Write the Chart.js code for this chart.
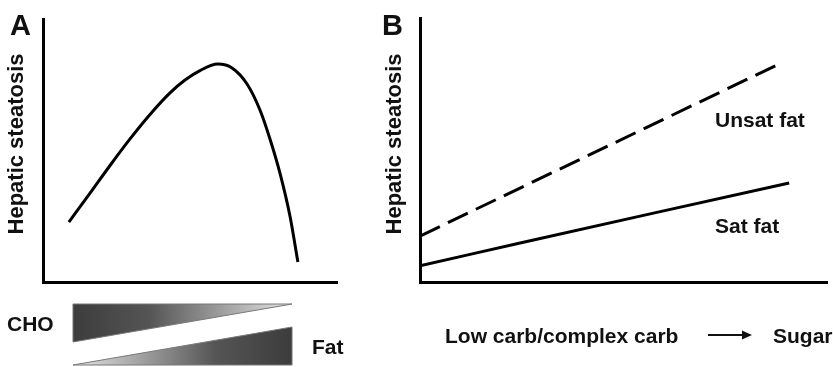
<!DOCTYPE html>
<html>
<head>
<meta charset="utf-8">
<script src="https://cdn.jsdelivr.net/npm/chart.js@4"></script>
<style>
  html, body { margin: 0; padding: 0; background: #fff; }
  body { width: 833px; height: 367px; position: relative; overflow: hidden; }
  canvas { position: absolute; top: 0; }
  #chartA { left: 0; }
  #chartB { left: 375px; }
</style>
</head>
<body>
<canvas id="chartA" width="375" height="367"></canvas>
<canvas id="chartB" width="458" height="367"></canvas>
<script>
// Panel A: CHO -> fat ratio vs hepatic steatosis (schematic, 0-100 units)
const shiftA = [8.8, 16.0, 22.8, 29.6, 36.4, 43.2, 48.3, 53.4, 59.5, 64.3, 69.4, 73.8, 77.2, 80.6, 84.0, 86.7];
const steatosisA = [22.8, 33.8, 44.3, 54.4, 63.7, 71.9, 76.8, 80.4, 82.9, 81.4, 75.3, 65.4, 54.4, 41.4, 25.1, 7.6];
const wedgeRange = [10.2, 84.7];

// Panel B: low carb/complex carb -> sugar
const carbB = [0, 87.7];
const unsatFat = [17.4, 82.2];
const carbSat = [0, 24.6, 90.7];
const satFat = [6.1, 14.8, 37.5];

const FONT = '"Liberation Sans", Arial, sans-serif';

function toPoints(xs, ys) {
    return xs.map((x, i) => ({ x: x, y: ys[i] }));
}

// axes with no ticks or grid, only the black border line
function plainScales() {
    const axis = {
        type: 'linear', min: 0, max: 100,
        grid: { display: false, drawTicks: false },
        ticks: { display: false },
        border: { display: true, color: '#000', width: 3 }
    };
    return { x: { ...axis }, y: { ...axis } };
}

// draws the texts of a panel, positions relative to the canvas
function textPlugin(items) {
    return {
        id: 'panelText',
        afterDraw(chart) {
            const ctx = chart.ctx;
            ctx.save();
            ctx.fillStyle = '#111';
            ctx.textBaseline = 'alphabetic';
            items.forEach(t => {
                ctx.font = 'bold ' + t.size + 'px ' + FONT;
                ctx.save();
                ctx.translate(t.x, t.y);
                if (t.rotate) {
                    ctx.rotate(-Math.PI / 2);
                    ctx.textAlign = 'center';
                } else {
                    ctx.textAlign = 'left';
                }
                ctx.fillText(t.text, 0, 0);
                ctx.restore();
            });
            ctx.restore();
        }
    };
}

// CHO / Fat wedges under panel A
const wedgePlugin = {
    id: 'wedges',
    afterDraw(chart) {
        const ctx = chart.ctx;
        const x0 = chart.scales.x.getPixelForValue(wedgeRange[0]);
        const x1 = chart.scales.x.getPixelForValue(wedgeRange[1]);
        const base = chart.chartArea.bottom;
        ctx.save();
        ctx.lineWidth = 1;
        ctx.strokeStyle = '#777';

        // CHO: thick on the left, thin on the right
        let g = ctx.createLinearGradient(x0, 0, x1, 0);
        g.addColorStop(0, '#3c3c3c');
        g.addColorStop(0.35, '#555');
        g.addColorStop(1, '#e6e6e6');
        ctx.fillStyle = g;
        ctx.beginPath();
        ctx.moveTo(x0, base + 22);
        ctx.lineTo(x1, base + 22);
        ctx.lineTo(x0, base + 60);
        ctx.closePath();
        ctx.fill();
        ctx.stroke();

        // Fat: thin on the left, thick on the right
        g = ctx.createLinearGradient(x0, 0, x1, 0);
        g.addColorStop(0, '#e6e6e6');
        g.addColorStop(0.65, '#555');
        g.addColorStop(1, '#3c3c3c');
        ctx.fillStyle = g;
        ctx.beginPath();
        ctx.moveTo(x0, base + 83);
        ctx.lineTo(x1, base + 45);
        ctx.lineTo(x1, base + 83);
        ctx.closePath();
        ctx.fill();
        ctx.stroke();
        ctx.restore();
    }
};

// arrow between the two parts of the x label in panel B
const arrowPlugin = {
    id: 'arrow',
    afterDraw(chart) {
        const ctx = chart.ctx;
        const y = 335, xs = 333, xe = 377;
        ctx.save();
        ctx.strokeStyle = '#111';
        ctx.fillStyle = '#111';
        ctx.lineWidth = 2;
        ctx.beginPath();
        ctx.moveTo(xs, y);
        ctx.lineTo(xe - 8, y);
        ctx.stroke();
        ctx.beginPath();
        ctx.moveTo(xe, y);
        ctx.lineTo(xe - 10, y - 4.5);
        ctx.lineTo(xe - 10, y + 4.5);
        ctx.closePath();
        ctx.fill();
        ctx.restore();
    }
};

new Chart(document.getElementById('chartA'), {
    type: 'line',
    data: {
        datasets: [{
            data: toPoints(shiftA, steatosisA),
            borderColor: '#000',
            borderWidth: 3,
            pointRadius: 0,
            fill: false,
            cubicInterpolationMode: 'monotone'
        }]
    },
    options: {
        responsive: false,
        animation: false,
        layout: { padding: { left: 43, top: 19, right: 38, bottom: 85 } },
        plugins: { legend: { display: false }, tooltip: { enabled: false } },
        scales: plainScales()
    },
    plugins: [wedgePlugin, textPlugin([
        { text: 'A', x: 10, y: 35, size: 29 },
        { text: 'Hepatic steatosis', x: 23, y: 144, size: 22, rotate: true },
        { text: 'CHO', x: 7, y: 331, size: 21 },
        { text: 'Fat', x: 312, y: 354, size: 21 }
    ])]
});

new Chart(document.getElementById('chartB'), {
    type: 'line',
    data: {
        datasets: [{
            label: 'Unsat fat',
            data: toPoints(carbB, unsatFat),
            borderColor: '#000',
            borderWidth: 3,
            borderDash: [22, 9],
            pointRadius: 0,
            fill: false
        }, {
            label: 'Sat fat',
            data: toPoints(carbSat, satFat),
            borderColor: '#000',
            borderWidth: 3,
            pointRadius: 0,
            fill: false,
            tension: 0.4
        }]
    },
    options: {
        responsive: false,
        animation: false,
        layout: { padding: { left: 45, top: 18, right: 6, bottom: 85 } },
        plugins: { legend: { display: false }, tooltip: { enabled: false } },
        scales: plainScales()
    },
    plugins: [arrowPlugin, textPlugin([
        { text: 'B', x: 7, y: 35, size: 29 },
        { text: 'Hepatic steatosis', x: 26, y: 144, size: 22, rotate: true },
        { text: 'Unsat fat', x: 340, y: 127, size: 21 },
        { text: 'Sat fat', x: 340, y: 233, size: 21 },
        { text: 'Low carb/complex carb', x: 70, y: 343, size: 21 },
        { text: 'Sugar', x: 398, y: 343, size: 21 }
    ])]
});
</script>
</body>
</html>
